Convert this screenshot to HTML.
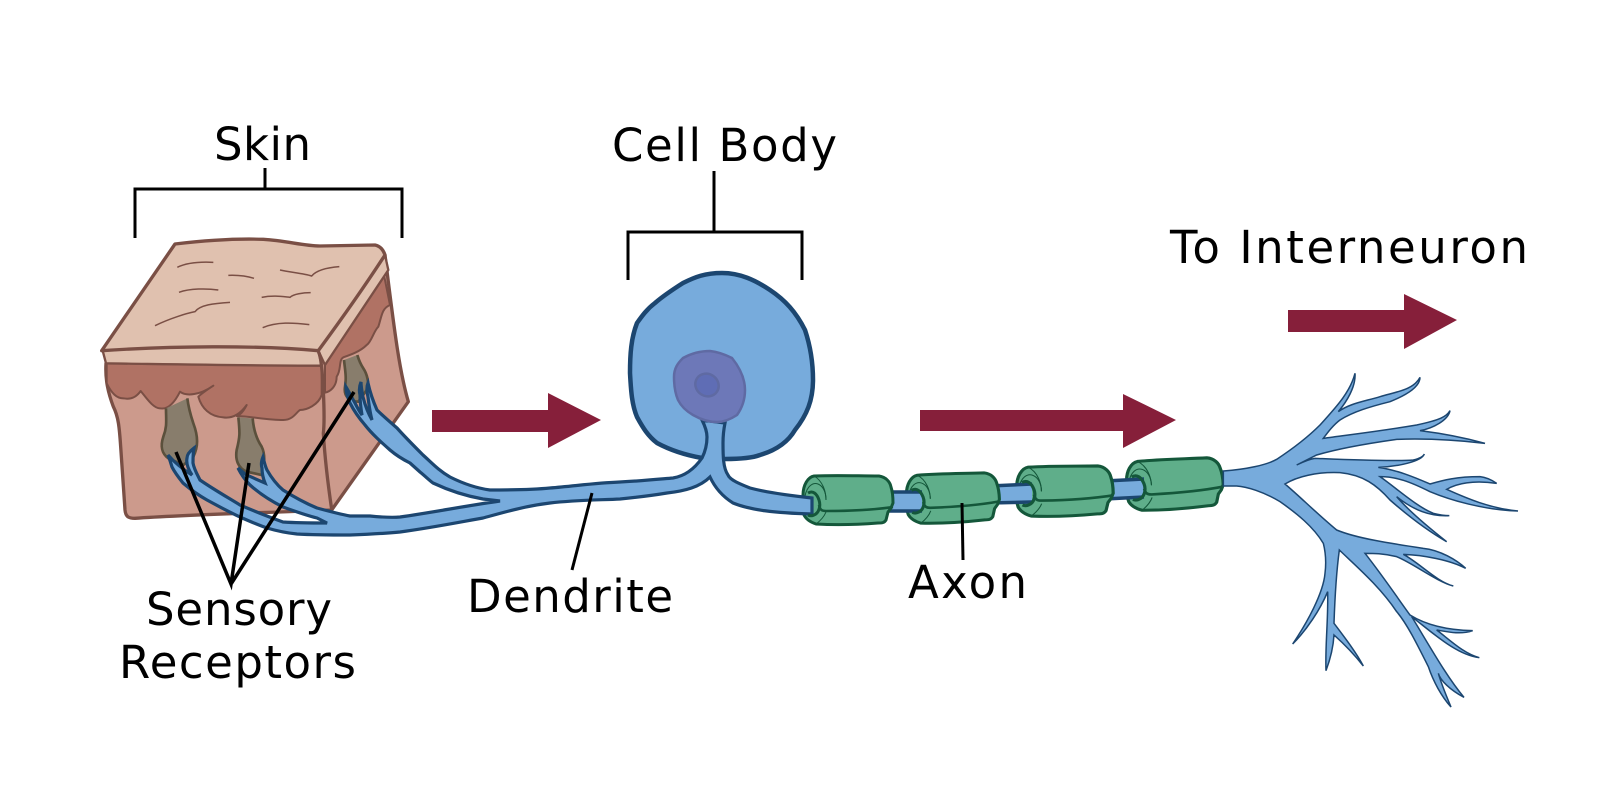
<!DOCTYPE html>
<html><head><meta charset="utf-8"><style>html,body{margin:0;padding:0;background:#fff}svg{display:block}text{font-family:"DejaVu Sans","Liberation Sans",sans-serif;font-size:45px;fill:#000}</style></head>
<body>
<svg width="1600" height="800" viewBox="0 0 1600 800" xmlns="http://www.w3.org/2000/svg">
<rect width="1600" height="800" fill="#fff"/>
<defs>
<g id="seg">
<path d="M-34 -24C-10 -25 10 -24 31 -24C38 -23 42 -18 43 -13C45 -7 45 -2 45 3L43 8L40 12L38 20C36 23 34 23 30 23C5 25 -15 25 -32 24C-38 22 -42 19 -44 15C-46 8 -46 1 -45 -5C-45 -15 -40 -23 -34 -24Z" fill="#5fae8a" stroke="#14573a" stroke-width="3" stroke-linejoin="round"/>
<path d="M-34 -24C-25 -19 -22 -8 -22 0M-22 12C-24 17 -28 21 -32 24" fill="none" stroke="#14573a" stroke-width="1"/>
<path d="M-43 -4C-41 -14 -35 -18 -30 -16C-25 -14 -22 -8 -22 0" fill="none" stroke="#14573a" stroke-width="1"/>
</g>
<g id="ring">
<path d="M-40 -9C-35 -12 -31 -8 -29 -2C-27 4 -29 11 -34 13C-36 14 -38 14 -40 13" fill="none" stroke="#14573a" stroke-width="3"/>
<path d="M-29 3C-28 8 -26 9 -22 9C0 9 25 8 45 5" fill="none" stroke="#14573a" stroke-width="2.6"/>
</g>
</defs>

<!-- skin -->
<g transform="translate(80 220) scale(.33333)">
<path d="M78 430C75 480 85 520 100 560C115 590 118 620 122 680L135 870C137 890 145 895 165 895C300 885 500 880 755 870L985 545C960 460 945 350 915 105L715 395Z" fill="#cc9a8c" stroke="#7a4f45" stroke-width="10" stroke-linejoin="round"/>
<path d="M80 430L725 437L725 525C715 555 680 570 660 570C650 575 640 600 610 600C560 600 520 590 470 588C480 585 490 575 500 555C475 590 450 595 430 592C390 590 365 565 355 530C365 520 380 510 400 497C360 525 320 530 300 515C285 545 265 570 240 565C220 565 200 535 182 513C170 530 155 540 130 535C110 535 95 520 80 490Z" fill="#b07264" stroke="#7a4f45" stroke-width="6" stroke-linejoin="round"/>
<path d="M735 435L905 130L930 255C905 265 905 290 895 320C880 335 875 365 860 375C840 395 810 405 790 412C775 420 785 450 770 470C770 500 750 515 735 518Z" fill="#b07264" stroke="#7a4f45" stroke-width="6"/>
<path d="M68 392C280 378 520 375 715 392L725 437C500 437 290 433 78 430Z" fill="#e0c1af" stroke="#7a4f45" stroke-width="7"/>
<path d="M715 392L735 435L925 150L915 105Z" fill="#e0c1af" stroke="#7a4f45" stroke-width="7" stroke-linejoin="round"/>
<path d="M65 392L285 72C370 62 470 55 550 58C620 62 670 78 720 78L885 75C900 78 910 90 915 105C860 190 790 290 715 392C520 375 280 378 65 392Z" fill="#e0c1af" stroke="#7a4f45" stroke-width="10" stroke-linejoin="round"/>
<g fill="none" stroke="#7a4f45" stroke-width="4.5">
<path d="M292 142C320 128 360 125 400 127"/><path d="M445 166C470 165 500 168 522 175"/><path d="M600 150C630 157 670 160 695 168C710 150 740 143 778 140"/><path d="M297 217C330 205 380 205 415 210"/><path d="M545 232C580 225 610 230 630 232C640 222 670 218 692 218"/><path d="M225 317C270 295 320 280 345 275C360 255 400 250 450 247"/><path d="M548 323C590 305 640 308 688 314"/>
</g>
<path d="M715 395C730 420 735 600 730 640C735 720 745 800 755 868" fill="none" stroke="#7a4f45" stroke-width="10"/>
<g fill="#887d6c" stroke="#5b503c" stroke-width="8">
<path d="M258 565C258 600 262 620 250 650C240 680 245 700 265 715L310 735L340 710C355 680 355 650 340 610C330 580 325 560 322 535"/>
<path d="M475 592C480 640 480 650 470 690C465 720 475 745 500 755L545 765C555 730 555 700 545 680C525 650 520 620 518 595"/>
<path d="M792 420C795 450 800 470 795 500C790 530 810 545 835 545L860 510C870 490 860 460 850 445C840 430 835 415 832 405"/>
</g>
</g>

<!-- myelin right to left -->
<use href="#seg" transform="translate(1175 484) rotate(-3) scale(1.07 1.02)"/>
<path d="M1105 481L1144 479V497L1105 499Z" fill="#77abdc"/><path d="M1105 481L1144 479M1105 499L1144 497" stroke="#1c4670" stroke-width="3.5"/>
<use href="#ring" transform="translate(1175 484) rotate(-3) scale(1.07 1.02)"/>
<use href="#seg" transform="translate(1065 491) rotate(-1) scale(1.07 1.02)"/>
<path d="M990 486L1032 484V502L990 503Z" fill="#77abdc"/><path d="M990 486L1032 484M990 503L1032 502" stroke="#1c4670" stroke-width="3.5"/>
<use href="#ring" transform="translate(1065 491) rotate(-1) scale(1.07 1.02)"/>
<use href="#seg" transform="translate(953 498) rotate(-2) scale(1.03 1)"/>
<path d="M885 492L922 492V511L885 511Z" fill="#77abdc"/><path d="M885 492L922 492M885 511L922 511" stroke="#1c4670" stroke-width="3.5"/>
<use href="#ring" transform="translate(953 498) rotate(-2) scale(1.03 1)"/>
<use href="#seg" transform="translate(848 500)"/>

<!-- cell body -->
<path d="M722 273C705 273 695 277 683 283C672 290 663 296 655 303C647 309 642 316 637 323C631 338 630 355 630 373C631 392 632 405 637 417C643 428 648 436 657 443C670 450 685 455 702 458L725 459C740 459 752 458 760 455C777 450 788 442 795 430C807 415 813 400 813 380C813 362 810 345 805 330C796 312 785 300 770 290C755 280 740 273 722 273Z" fill="#77abdc" stroke="#1c4670" stroke-width="4.5"/>

<!-- nerve -->
<path d="M168 455C170 460 171 464 172 467C175 473 179 478 183 483C190 489 198 495 207 500C218 506 229 512 240 517C249 521 258 525 267 528C277 531 287 533 297 534C315 535 332 535 350 535C375 534 390 533 400 532C430 528 455 523 483 518C505 512 525 506 550 503C575 500 600 500 620 499C640 497 655 495 667 493C685 491 700 487 710 477C716 490 725 498 733 503C750 510 775 513 812 514L812 498C785 495 765 492 750 488C740 484 730 480 728 475C723 468 723 455 723 443C723 435 724 428 725 423L702 420C706 428 707 433 707 437C707 445 705 452 702 458C695 468 685 476 673 478C650 480 640 481 620 482C595 483 575 486 550 488C530 490 510 490 490 490C475 488 462 483 450 477C438 470 432 463 423 455C414 446 405 437 397 428C390 422 383 416 377 410C373 401 370 392 368 383C366 388 367 393 368 397C369 405 370 413 372 420C368 413 365 405 363 397C362 392 361 387 361 382C359 387 359 391 360 395C360 402 361 409 362 415C359 411 357 407 355 403C352 398 349 392 346 387C346 393 348 398 350 403C354 411 359 418 365 425C372 434 381 442 390 450C397 456 404 460 410 463L420 472C425 476 429 480 433 483C450 491 466 496 483 499L500 501C465 506 435 512 400 517C390 518 380 517 370 516C363 516 357 516 350 516C339 514 328 511 317 508C305 503 294 497 283 490C276 484 271 477 267 470C265 466 264 461 263 457C261 462 261 465 262 468C262 473 263 478 265 483C258 480 251 477 245 474L238 468C241 474 245 480 250 485C260 494 271 501 283 507C294 511 305 515 317 518L327 523C312 523 298 523 283 522C269 517 254 511 240 505C227 497 213 489 200 480C197 474 194 469 193 463C193 458 193 453 194 448C190 451 187 454 187 458C186 463 188 469 192 475C184 470 175 463 168 455Z" fill="#77abdc" stroke="#1c4670" stroke-width="3.2" stroke-linejoin="miter"/>
<use href="#ring" transform="translate(848 502)"/>

<!-- nucleus -->
<path d="M674 377C674 368 678 363 683 358C692 353 700 351 710 351C719 352 726 355 732 358C740 368 745 378 745 390C745 400 742 408 737 415C731 419 724 422 717 422C708 422 700 419 693 415C686 411 681 406 678 400C675 393 674 385 674 377Z" fill="#6d78b8" stroke="#5f6aa3" stroke-width="2.5"/>
<ellipse cx="707" cy="385" rx="12" ry="11" transform="rotate(35 707 385)" fill="#5f6db5" stroke="#5f6aa3" stroke-width="2.5"/>

<!-- terminal -->
<g transform="translate(1190 360) scale(.33333)">
<path d="M100 333C170 328 230 315 260 298C310 265 360 225 390 195C430 150 480 100 495 40C498 80 470 125 445 155C480 130 520 125 570 110C620 95 670 90 690 52C690 80 650 105 600 125C540 140 490 155 450 180C430 195 415 215 400 235C470 225 560 215 680 195C750 180 770 170 780 152C775 180 730 205 690 212C770 222 830 235 885 250C800 240 700 235 620 238C500 255 430 270 380 285C360 295 340 305 320 315C340 305 360 297 375 295C450 298 600 305 670 300C690 295 700 290 703 282C695 305 620 320 565 322C620 330 670 350 720 372C760 360 800 350 870 350C890 352 905 360 920 370C850 360 800 370 770 388C830 415 900 445 984 453C880 450 780 420 720 395C660 365 620 350 570 350C620 385 680 440 730 460C750 465 765 467 778 467C720 470 670 450 620 410C650 445 700 490 770 545C700 505 640 455 600 420C560 375 520 345 450 338C380 335 320 350 285 372C330 410 380 460 440 510C500 535 600 550 700 565C750 570 800 600 827 625C780 600 700 585 640 583C690 610 740 665 790 678C740 665 670 610 620 590C580 580 550 580 525 580C580 650 620 710 660 765C700 790 760 810 848 812C810 825 770 815 740 810C780 840 820 880 868 893C800 885 730 820 665 770C720 860 770 950 822 1012C780 990 750 960 745 940C755 975 770 1010 783 1041C755 1010 730 965 715 920C680 850 650 790 620 755C570 680 500 620 448 570C440 630 435 700 432 790C470 840 500 880 520 918C490 880 460 850 432 825C430 860 420 900 408 932C405 860 415 780 413 695C390 750 350 810 308 852C350 790 400 700 405 640C410 600 405 570 400 550C370 500 320 460 270 425C220 395 170 380 140 378L100 378Z" fill="#77abdc" stroke="#1c4670" stroke-width="4.5" stroke-linejoin="miter"/>
</g>

<!-- arrows -->
<g fill="#861f3a">
<path d="M432 410H548V393L601 420L548 448V432H432Z"/>
<path d="M920 410H1123V394L1176 420L1123 448V431H920Z"/>
<path d="M1288 310H1404V294L1457 320L1404 349V332H1288Z"/>
</g>

<!-- brackets and leader lines -->
<g fill="none" stroke="#000" stroke-width="3">
<path d="M135 238V189H402V238M265 189V168"/>
<path d="M628 280V232H802V280M714 232V171"/>
<path d="M176 452L231 584L249 463M231 584L354 392" stroke-width="3.5"/>
<path d="M592 493L572 570"/>
<path d="M962 503L963 560"/>
</g>

<text x="214" y="160" textLength="97">Skin</text>
<text x="612" y="161" textLength="225">Cell Body</text>
<text x="1170" y="263" textLength="358">To Interneuron</text>
<text x="146" y="625" textLength="186">Sensory</text>
<text x="119" y="678" textLength="237">Receptors</text>
<text x="467" y="612" textLength="206">Dendrite</text>
<text x="908" y="598" textLength="119">Axon</text>
</svg>
</body></html>
